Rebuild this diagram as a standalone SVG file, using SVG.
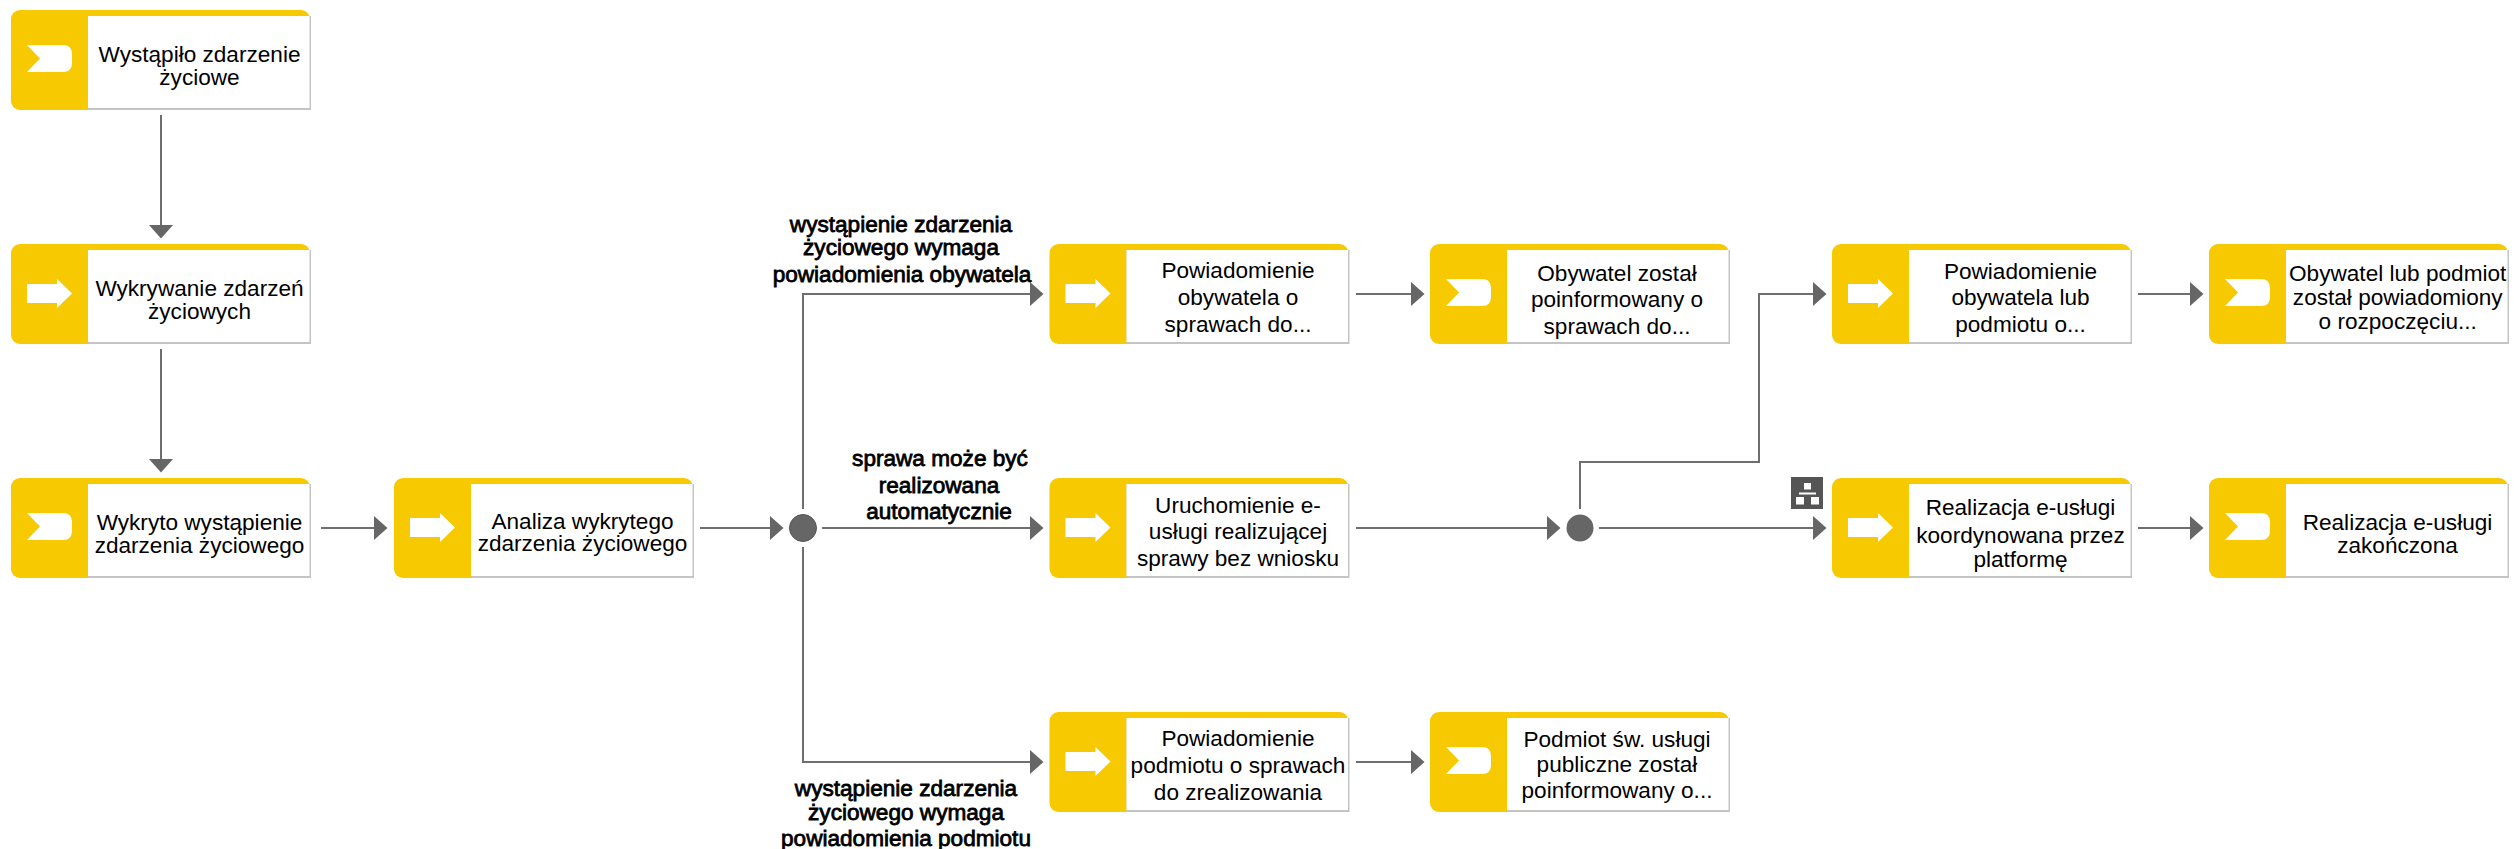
<svg xmlns="http://www.w3.org/2000/svg" width="2514" height="849" viewBox="0 0 2514 849">
<style>
text{font-family:"Liberation Sans",Arial,sans-serif;font-size:22.6px;fill:#000;text-anchor:middle}
.lbl{stroke:#000;stroke-width:.8px}
.c{fill:none;stroke:#6e6e6e;stroke-width:2}
.y{fill:#f6c900}.w{fill:#fff}.g{fill:#c4c4c4}
</style>
<defs>
<marker id="ah" markerUnits="userSpaceOnUse" markerWidth="14" markerHeight="24" refX="0" refY="12" orient="auto" overflow="visible"><path d="M0 0L13.500 12L0 24Z" fill="#666"/></marker>
<g id="box"><rect class="y" x="0" y="0" width="299" height="100" rx="9"/><rect class="g" x="77" y="6" width="223" height="94"/><rect class="w" x="77" y="6" width="221.500" height="92"/></g>
<path id="ev" class="w" d="M16 35H52Q61 35 61 44V53Q61 62 52 62H16L29 48.500Z"/>
<path id="fn" class="w" d="M16 40H46V35L61 49.500L46 64V59H16Z"/>
</defs>
<rect width="2514" height="849" fill="#fff"/>
<g id="connectors">
<path class="c" marker-end="url(#ah)" d="M161 115V225"/>
<path class="c" marker-end="url(#ah)" d="M161 349V459"/>
<path class="c" marker-end="url(#ah)" d="M321 528H374"/>
<path class="c" marker-end="url(#ah)" d="M700 528H770"/>
<path class="c" marker-end="url(#ah)" d="M803 509V294H1030"/>
<path class="c" marker-end="url(#ah)" d="M822 528H1030"/>
<path class="c" marker-end="url(#ah)" d="M803 547V762H1030"/>
<path class="c" marker-end="url(#ah)" d="M1356 294H1411"/>
<path class="c" marker-end="url(#ah)" d="M1356 762H1411"/>
<path class="c" marker-end="url(#ah)" d="M1356 528H1547"/>
<path class="c" marker-end="url(#ah)" d="M1580 509V462H1759V294H1813"/>
<path class="c" marker-end="url(#ah)" d="M1599 528H1813"/>
<path class="c" marker-end="url(#ah)" d="M2138 294H2190"/>
<path class="c" marker-end="url(#ah)" d="M2138 528H2190"/>
</g>
<g id="n1" transform="translate(11 10)"><use href="#box"/><use href="#ev"/><text x="188.500" y="52">Wystąpiło zdarzenie</text><text x="188.500" y="75">życiowe</text></g>
<g id="n2" transform="translate(11 244)"><use href="#box"/><use href="#fn"/><text x="188.500" y="52">Wykrywanie zdarzeń</text><text x="188.500" y="75">życiowych</text></g>
<g id="n3" transform="translate(11 478)"><use href="#box"/><use href="#ev"/><text x="188.500" y="52">Wykryto wystąpienie</text><text x="188.500" y="75">zdarzenia życiowego</text></g>
<g id="n4" transform="translate(394 478)"><use href="#box"/><use href="#fn"/><text x="188.500" y="51">Analiza wykrytego</text><text x="188.500" y="73">zdarzenia życiowego</text></g>
<g id="n5" transform="translate(1049.500 244)"><use href="#box"/><use href="#fn"/><text x="188.500" y="34">Powiadomienie</text><text x="188.500" y="61">obywatela o</text><text x="188.500" y="88">sprawach do...</text></g>
<g id="n6" transform="translate(1430 244)"><use href="#box"/><use href="#ev"/><text x="187" y="37">Obywatel został</text><text x="187" y="63">poinformowany o</text><text x="187" y="90">sprawach do...</text></g>
<g id="n7" transform="translate(1832 244)"><use href="#box"/><use href="#fn"/><text x="188.500" y="35">Powiadomienie</text><text x="188.500" y="61">obywatela lub</text><text x="188.500" y="88">podmiotu o...</text></g>
<g id="n8" transform="translate(2209 244)"><use href="#box"/><use href="#ev"/><text x="188.700" y="37">Obywatel lub podmiot</text><text x="188.700" y="61">został powiadomiony</text><text x="188.700" y="85">o rozpoczęciu...</text></g>
<g id="n9" transform="translate(1049.500 478)"><use href="#box"/><use href="#fn"/><text x="188.500" y="35">Uruchomienie e-</text><text x="188.500" y="61">usługi realizującej</text><text x="188.500" y="88">sprawy bez wniosku</text></g>
<g id="n10" transform="translate(1832 478)"><use href="#box"/><use href="#fn"/><text x="188.500" y="37">Realizacja e-usługi</text><text x="188.500" y="65">koordynowana przez</text><text x="188.500" y="89">platformę</text></g>
<g id="n11" transform="translate(2209 478)"><use href="#box"/><use href="#ev"/><text x="188.500" y="52">Realizacja e-usługi</text><text x="188.500" y="75">zakończona</text></g>
<g id="n12" transform="translate(1049.500 712)"><use href="#box"/><use href="#fn"/><text x="188.500" y="34">Powiadomienie</text><text x="188.500" y="61">podmiotu o sprawach</text><text x="188.500" y="88">do zrealizowania</text></g>
<g id="n13" transform="translate(1430 712)"><use href="#box"/><use href="#ev"/><text x="187" y="35">Podmiot św. usługi</text><text x="187" y="60">publiczne został</text><text x="187" y="86">poinformowany o...</text></g>
<g id="j1"><circle cx="803" cy="528" r="13.500" fill="#666" stroke="#555"/></g>
<g id="j2"><circle cx="1580" cy="528" r="13.500" fill="#666"/></g>
<g id="sub"><rect x="1791" y="477" width="32" height="32" fill="#555"/><path class="w" d="M1804 483h7v6.500h-7zM1799 492.500h17v2h-17zM1796 497h8v7.500h-8zM1811 497h8v7.500h-8z"/></g>
<g id="labels">
<text class="lbl" x="901" y="231.500">wystąpienie zdarzenia</text><text class="lbl" x="901" y="255">życiowego wymaga</text><text class="lbl" x="902" y="281.500">powiadomienia obywatela</text>
<text class="lbl" x="940" y="466">sprawa może być</text><text class="lbl" x="939" y="493">realizowana</text><text class="lbl" x="939" y="519">automatycznie</text>
<text class="lbl" x="906" y="796">wystąpienie zdarzenia</text><text class="lbl" x="906" y="820">życiowego wymaga</text><text class="lbl" x="906" y="846">powiadomienia podmiotu</text>
</g>
</svg>
